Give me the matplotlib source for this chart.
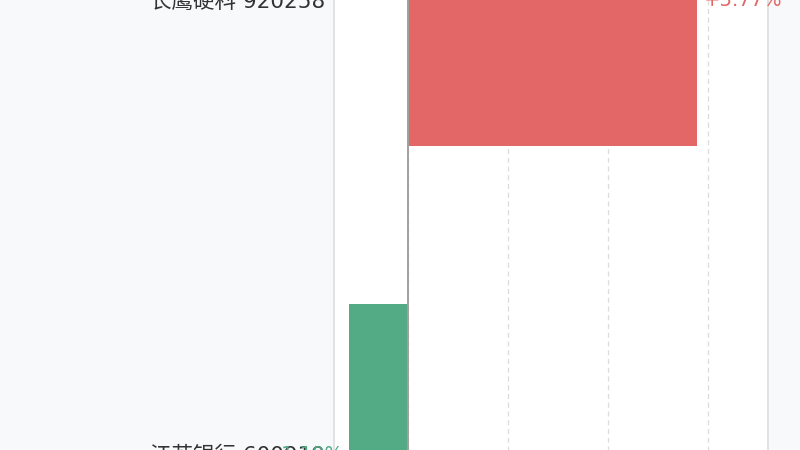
import matplotlib
matplotlib.use("Agg")
import matplotlib.pyplot as plt
from matplotlib.transforms import ScaledTranslation

plt.rcParams['font.family'] = ['DejaVu Sans', 'Noto Sans CJK SC']

names = ["江苏银行 600919", "长鹰硬科 920258"]
changes = [-1.19, 5.77]
xticks = [0, 2, 4, 6]

RED = "#e36767"
GREEN = "#52ab84"
BG = "#f8f9fb"

fig = plt.figure(figsize=(8, 4.5), dpi=100, facecolor=BG)
# axes extends beyond the visible figure vertically
ax = fig.add_axes([334/800, 1 - 679/450, (768-334)/800, 908/450])
ax.set_facecolor("white")

colors = [RED if v >= 0 else GREEN for v in changes]
ypos = list(range(len(names)))
ax.barh(ypos, changes, height=0.652, color=colors, zorder=3)

ax.set_xlim(-1.48, 7.2)
ax.set_ylim(-0.5, 1.5)
ax.set_xticks(xticks)
ax.xaxis.grid(True, linestyle=(0, (4, 3)), color="#dcdcdc", linewidth=0.9, zorder=0)
ax.axvline(0, color="#a0a0a0", linewidth=1.4, zorder=4)

ax.set_yticks(ypos)
ax.set_yticklabels(names, fontsize=15.5, color="#333333")
ax.tick_params(axis='y', length=0, pad=6.5)
ax.tick_params(axis='x', length=0)
shift = ScaledTranslation(0, -2/100, fig.dpi_scale_trans)
for lbl in ax.get_yticklabels():
    lbl.set_transform(lbl.get_transform() + shift)

for s in ax.spines.values():
    s.set_color("#dddddd")
    s.set_linewidth(1.2)

for y, v, c in zip(ypos, changes, colors):
    label = f"{v:+.2f}%"
    if v >= 0:
        ax.annotate(label, (v, y), xytext=(5, -1.5), textcoords="offset points",
                    ha="left", va="center", fontsize=14, color=c, zorder=5)
    else:
        ax.annotate(label, (v, y), xytext=(-4, -1.5), textcoords="offset points",
                    ha="right", va="center", fontsize=14, color=c, zorder=5)

fig.savefig("out.png", dpi=100, facecolor=BG)
